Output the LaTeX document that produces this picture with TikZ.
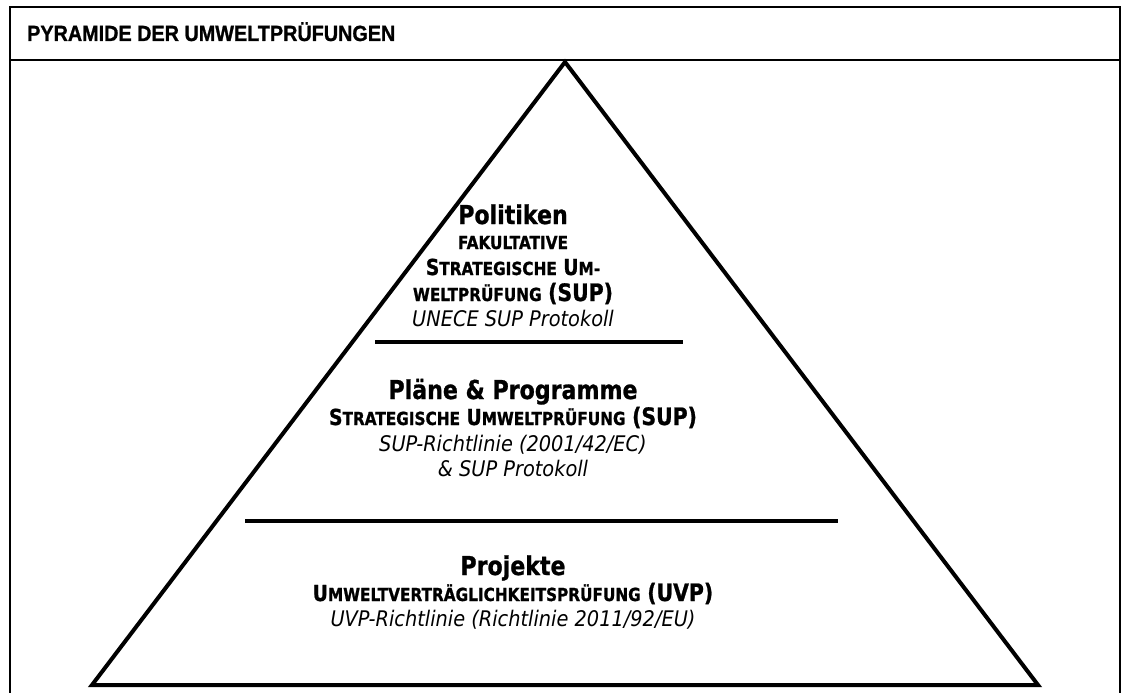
\documentclass[tikz,border=0pt]{standalone}
\usepackage{fontspec}
\setmainfont{DejaVu Sans}[FakeStretch=0.85,BoldFeatures={FakeBold=1}]
\newfontfamily\oblfont{DejaVu Sans}[FakeStretch=0.9]
\newfontfamily\hdrfont{Liberation Sans}[FakeStretch=0.9,BoldFeatures={FakeBold=1}]
\newcommand\fs[1]{\fontsize{#1}{#1}\selectfont}
\newcommand\smc[1]{{\fs{18}#1}}
\begin{document}
\begin{tikzpicture}[x=1pt,y=-1pt,
  frame/.style={line width=2pt},
  pyr/.style={line width=4pt,line join=miter},
  sep/.style={line width=4pt},
  txt/.style={anchor=base,inner sep=0pt,font=\bfseries\fs{22}},
  ttl/.style={anchor=base,inner sep=0pt,font=\bfseries\fs{26}},
  itl/.style={anchor=base,inner sep=0pt,font=\oblfont\itshape\fs{21.5}}]
\useasboundingbox (0,0) rectangle (1122,693);
% frame
\draw[frame] (10,700) -- (10,7) -- (1120,7) -- (1120,700);
\draw[frame] (10,60) -- (1120,60);
\node[anchor=base west,inner sep=0pt,font=\hdrfont\bfseries\fs{22}] (hdr) at (27,41) {PYRAMIDE DER UMWELTPRÜFUNGEN};
% pyramid
\coordinate (apex) at (565,62);
\coordinate (bl) at (92,685);
\coordinate (br) at (1038,685);
\draw[pyr] (apex) -- (bl) -- (br) -- cycle;
\coordinate (l1a) at (375,342);
\coordinate (l1b) at (683,342);
\draw[sep] (l1a) -- (l1b);
\coordinate (l2a) at (245,521);
\coordinate (l2b) at (838,521);
\draw[sep] (l2a) -- (l2b);
% top tier
\def\cx{513}
\node[ttl] (pol) at (\cx,224) {Politiken};
\node[txt] (pol1) at (\cx,249) {\smc{FAKULTATIVE}};
\node[txt] (pol2) at (\cx,275) {S\smc{TRATEGISCHE} U\smc{M-}};
\node[txt] (pol3) at (\cx,301) {\smc{WELTPRÜFUNG} {\fs{24}(SUP)}};
\node[itl] (pol4) at (\cx,326) {UNECE SUP Protokoll};
% middle tier
\node[ttl] (pp) at (\cx,399) {Pläne \& Programme};
\node[txt] (pp1) at (\cx,425) {S\smc{TRATEGISCHE} U\smc{MWELTPRÜFUNG} {\fs{24}(SUP)}};
\node[itl] (pp2) at (\cx,451) {SUP-Richtlinie (2001/42/EC)};
\node[itl] (pp3) at (\cx,476) {\& SUP Protokoll};
% bottom tier
\node[ttl] (pr) at (\cx,575) {Projekte};
\node[txt] (pr1) at (\cx,601) {U\smc{MWELTVERTRÄGLICHKEITSPRÜFUNG} {\fs{24}(UVP)}};
\node[itl] (pr2) at (\cx,626) {UVP-Richtlinie (Richtlinie 2011/92/EU)};
\end{tikzpicture}
\end{document}
